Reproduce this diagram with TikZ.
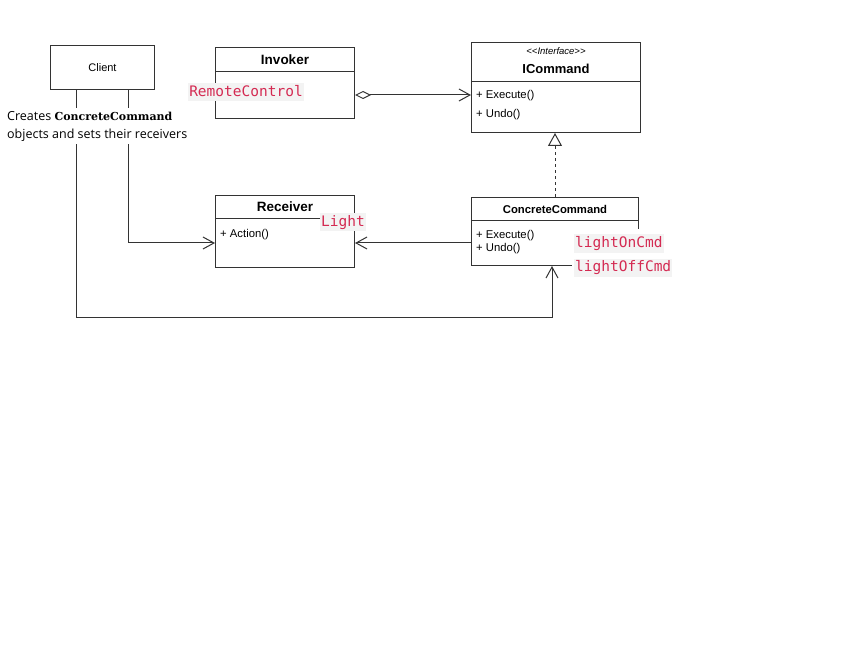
\documentclass[tikz,border=0pt]{standalone}
\usepackage{fontspec}
\setmainfont{Liberation Sans}
\newfontfamily\notefont{Open Sans}
\newfontfamily\codefont{DejaVu Sans Mono}
\newfontfamily\notebold{DejaVu Serif}
\usetikzlibrary{arrows.meta,calc}
\definecolor{codered}{HTML}{D42A52}
\definecolor{codebg}{HTML}{F3F3F3}
\definecolor{edge}{HTML}{333333}

\begin{document}
\begin{tikzpicture}[x=1pt,y=-1pt,
  umlbox/.style={draw=edge, line width=1pt, inner sep=0pt, anchor=north west},
  title/.style={font=\fontsize{13.5}{15}\selectfont\bfseries},
  member/.style={font=\fontsize{11.3}{13}\selectfont, anchor=west, inner sep=0pt},
  conn/.style={draw=edge, line width=1pt},
  assoc/.style={conn, -{Straight Barb[length=11pt,width=12pt]}},
  agg/.style={conn, {Diamond[open,length=16pt,width=8pt]}-{Straight Barb[length=11pt,width=12pt]}},
  realize/.style={conn, dash pattern=on 3pt off 3pt, -{Triangle[open,length=13pt,width=14pt]}},
  code/.style={fill=codebg, text=codered, font=\codefont\fontsize{14.5}{16}\selectfont,
    inner xsep=1pt, inner ysep=1.75pt, text height=11pt, text depth=3.5pt},
]
\useasboundingbox (0,0) rectangle (854,655);

% classes
\node[umlbox, minimum width=104pt, minimum height=44pt] (client) at (50,45) {};
\node[font=\fontsize{11}{13}\selectfont] (clientname) at (client.center) {Client};

\node[umlbox, minimum width=139pt, minimum height=71pt] (invoker) at (215,47) {};
\draw[conn] ($(invoker.north west)+(0,25)$) -- ($(invoker.north east)+(0,25)$);
\node[title] (invokername) at ($(invoker.north)+(0,12.5)$) {Invoker};

\node[umlbox, minimum width=169pt, minimum height=90pt] (icmd) at (471,42) {};
\draw[conn] ($(icmd.north west)+(0,40)$) -- ($(icmd.north east)+(0,40)$);
\node[font=\fontsize{9.5}{10}\selectfont\itshape] (stereo) at ($(icmd.north)+(0,9.5)$) {{<}{<}Interface{>}{>}};
\node[font=\fontsize{13}{15}\selectfont\bfseries] (icmdname) at ($(icmd.north)+(0,27)$) {ICommand};
\node[member] (icmdexec) at ($(icmd.north west)+(5,54)$) {+ Execute()};
\node[member] (icmdundo) at ($(icmd.north west)+(5,73)$) {+ Undo()};

\node[umlbox, minimum width=139pt, minimum height=72pt] (receiver) at (215,195) {};
\draw[conn] ($(receiver.north west)+(0,24)$) -- ($(receiver.north east)+(0,24)$);
\node[title] (receivername) at ($(receiver.north)+(0,12)$) {Receiver};
\node[member] (action) at ($(receiver.north west)+(5,40)$) {+ Action()};

\node[umlbox, minimum width=167pt, minimum height=68pt] (cc) at (471,197) {};
\draw[conn] ($(cc.north west)+(0,24)$) -- ($(cc.north east)+(0,24)$);
\node[font=\fontsize{11.3}{13}\selectfont\bfseries] (ccname) at ($(cc.north)+(0,12)$) {ConcreteCommand};
\node[member] (ccexec) at ($(cc.north west)+(5,39)$) {+ Execute()};
\node[member] (ccundo) at ($(cc.north west)+(5,52)$) {+ Undo()};

% relations
\coordinate (aggstart) at ($(invoker.north east)+(0,48)$);
\draw[agg] (aggstart) -- (aggstart -| icmd.west);
\draw[realize] (cc.north) -- (cc.north |- icmd.south);
\coordinate (usestart) at ($(cc.north west)+(0,46)$);
\draw[assoc] (usestart) -- (usestart -| receiver.east);
\draw[assoc] ($(client.south west)+(78,0)$) |- ($(receiver.north west)+(0,48)$);
\draw[assoc] ($(client.south west)+(26,0)$) -- ++(0,227) -| ($(cc.south west)+(81,0)$);

% note on the client
\node[fill=white, anchor=north west, align=left, inner xsep=2pt, inner ysep=3pt,
  font=\notefont\fontsize{12.5}{18}\selectfont] (note) at (5,108)
  {Creates {\notebold\bfseries\fontsize{11}{18}\selectfont ConcreteCommand}\\objects and sets their receivers};

% instance names
\node[code] (remote) at (246,92.5) {RemoteControl};
\node[code] (light) at (343,222.5) {Light};
\fill[white] (572,229) rectangle (645,277);
\node[code, anchor=west] (oncmd) at (574,243.5) {lightOnCmd};
\node[code, anchor=west] (offcmd) at (574,267.5) {lightOffCmd};
\end{tikzpicture}
\end{document}
